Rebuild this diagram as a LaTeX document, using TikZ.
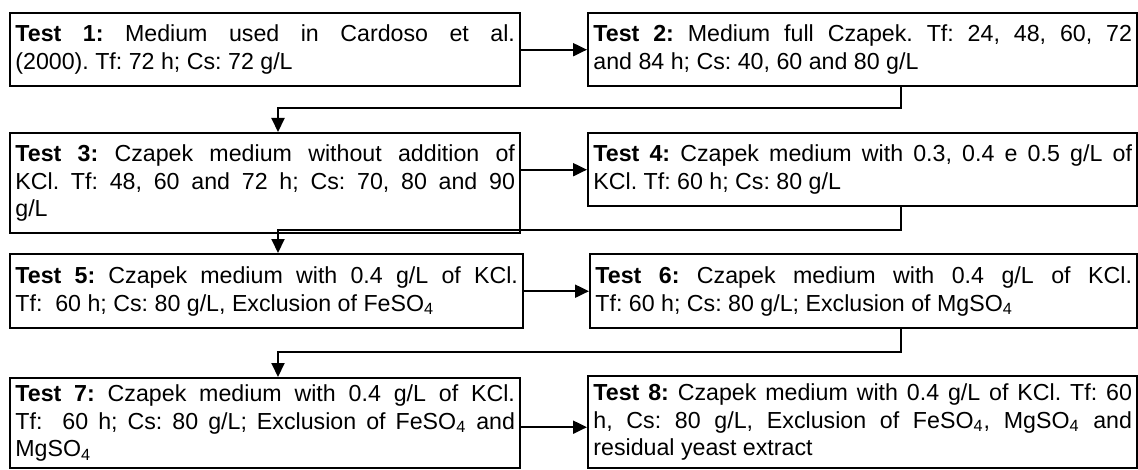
\documentclass[tikz,border=0pt]{standalone}
\usepackage{fontspec}
\setmainfont{Liberation Sans}
\usetikzlibrary{arrows.meta}
\hyphenpenalty=10000
\exhyphenpenalty=10000
\frenchspacing

\begin{document}
\begin{tikzpicture}[x=0.5pt, y=-0.5pt, >={Triangle[length=7pt, width=6.5pt]},
    testbox/.style={draw, line width=1.2pt, anchor=north west, align=justify,
        inner xsep=2.6pt, inner ysep=0pt, font=\fontsize{11.6}{13.8}\selectfont},
    leftbox/.style={testbox, text width=249.8pt},
    rightbox/.style={testbox, text width=269.3pt},
    conn/.style={->, line width=1pt}]
    \useasboundingbox (0, 0) rectangle (1138, 470);
    % left column
    \node[leftbox, minimum height=36.5pt] (t1) at (9, 12) {\textbf{Test 1:} Medium used in Cardoso et al.\linebreak (2000). Tf: 72 h; Cs: 72 g/L};
    \node[leftbox, minimum height=50pt] (t3) at (9, 132) {\textbf{Test 3:} Czapek medium without addition of\linebreak KCl. Tf: 48, 60 and 72 h; Cs: 70, 80 and 90\linebreak g/L};
    \node[leftbox, text width=251.3pt, minimum height=37pt] (t5) at (9, 253) {\textbf{Test 5:} Czapek medium with 0.4 g/L of KCl.\linebreak Tf:\ \ 60 h; Cs: 80 g/L, Exclusion of FeSO\textsubscript{4}};
    \node[leftbox, minimum height=45pt] (t7) at (9, 377) {\textbf{Test 7:} Czapek medium with 0.4 g/L of KCl.\linebreak Tf:\ \ 60 h; Cs: 80 g/L; Exclusion of FeSO\textsubscript{4} and\linebreak MgSO\textsubscript{4}};
    % right column
    \node[rightbox, minimum height=36.5pt] (t2) at (587, 12) {\textbf{Test 2:} Medium full Czapek. Tf: 24, 48, 60, 72\linebreak and 84 h; Cs: 40, 60 and 80 g/L};
    \node[rightbox, minimum height=36.5pt] (t4) at (587, 132) {\textbf{Test 4:} Czapek medium with 0.3, 0.4 e 0.5 g/L of\linebreak KCl. Tf: 60 h; Cs: 80 g/L};
    \node[rightbox, text width=268.3pt, minimum height=37pt] (t6) at (589, 253) {\textbf{Test 6:} Czapek medium with 0.4 g/L of KCl.\linebreak Tf: 60 h; Cs: 80 g/L; Exclusion of MgSO\textsubscript{4}};
    \node[rightbox, minimum height=46pt] (t8) at (587, 375) {\textbf{Test 8:} Czapek medium with 0.4 g/L of KCl. Tf: 60\linebreak h, Cs: 80 g/L, Exclusion of FeSO\textsubscript{4}, MgSO\textsubscript{4} and\linebreak residual yeast extract};

    \coordinate (k) at (901, 0);
    \coordinate (j1) at (278, 108);
    \coordinate (j2) at (278, 230);
    \coordinate (j3) at (278, 352);

    \draw[conn] (t1.east) -- (t1.east -| t2.west);
    \draw[conn] (t2.south -| k) |- (j1) -- (j1 |- t3.north);
    \draw[conn] (t4.west -| t3.east) -- (t4.west);
    \draw[conn] (t4.south -| k) |- (j2) -- (j2 |- t5.north);
    \draw[conn] (t6.west -| t5.east) -- (t6.west);
    \draw[conn] (t6.south -| k) |- (j3) -- (j3 |- t7.north);
    \draw[conn] ([yshift=-2.5pt]t8.west -| t7.east) -- ([yshift=-2.5pt]t8.west);
\end{tikzpicture}
\end{document}
